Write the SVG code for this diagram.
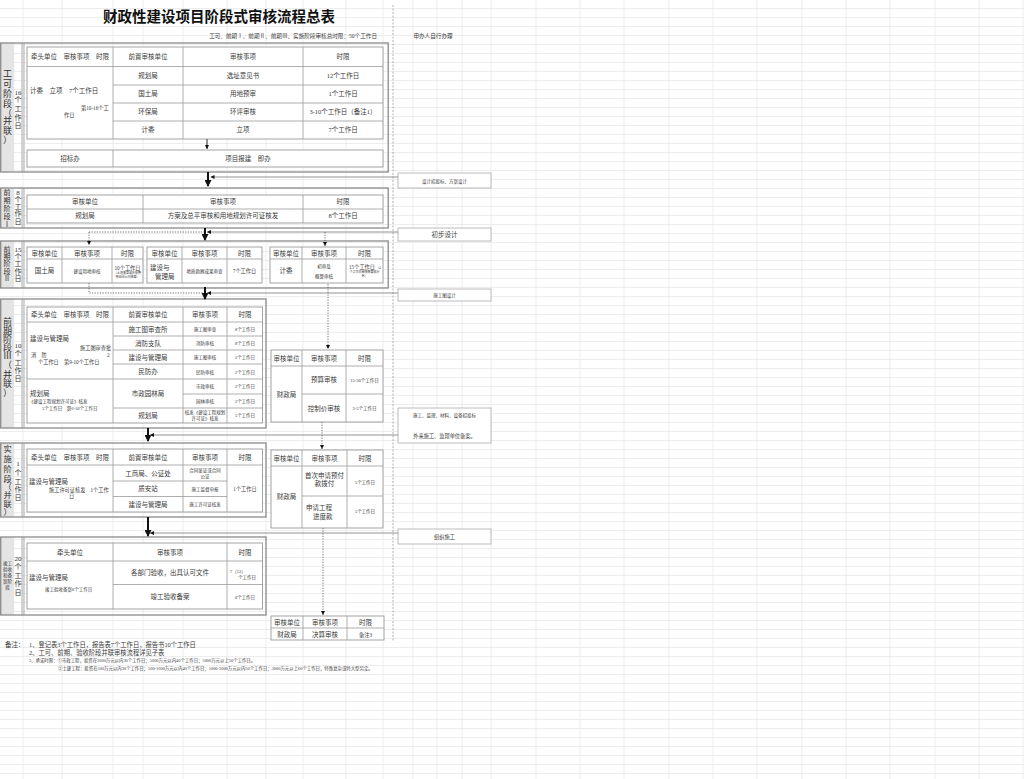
<svg xmlns="http://www.w3.org/2000/svg" width="1024" height="779" viewBox="0 0 1024 779">
<style>
text{font-family:"Liberation Serif","Noto Sans CJK SC",serif;fill:#3a3a3a;font-size:6.5px}
.c{text-anchor:middle}
.s4{font-size:4.5px}
.s5{font-size:5.2px}
.s3{font-size:3px}
.lab{font-size:9px;text-anchor:middle;fill:#333}
.labs{font-size:7px;text-anchor:middle;fill:#333}
.sec{fill:none;stroke:#8a8a8a;stroke-width:1.3}
.gray{fill:#e4e4e4}
.tb{fill:#fff;stroke:#9a9a9a;stroke-width:0.9}
.ln{stroke:#9a9a9a;stroke-width:0.8;fill:none}
.rb{fill:#fff;stroke:#aaa;stroke-width:0.8}
.bold{stroke:#111;stroke-width:2;fill:none;marker-end:url(#big)}
.con{stroke:#777;stroke-width:0.8;fill:none;marker-end:url(#sm)}
.dot{stroke:#555;stroke-width:0.8;fill:none;stroke-dasharray:1.3,1.3}
.dota{stroke:#555;stroke-width:0.8;fill:none;stroke-dasharray:1.3,1.3;marker-end:url(#sm)}
</style>
<defs>
<pattern id="gh" width="1024" height="9" patternUnits="userSpaceOnUse"><path d="M0 8.5H1024" stroke="#e9e9e9" stroke-width="0.8"/></pattern>
<marker id="big" markerWidth="7" markerHeight="7" refX="6" refY="3.5" orient="auto" markerUnits="userSpaceOnUse"><path d="M0,0 L7,3.5 L0,7 z" fill="#111"/></marker>
<marker id="sm" markerWidth="4" markerHeight="4" refX="4" refY="2" orient="auto" markerUnits="userSpaceOnUse"><path d="M0,0 L4,2 L0,4 z" fill="#111"/></marker>
</defs>
<rect width="1024" height="779" fill="#fff"/>
<rect width="1024" height="779" fill="url(#gh)"/>
<path d="M23 0V779M62 0V779M113 0V779M143 0V779M183 0V779M227 0V779M266 0V779M303 0V779M346 0V779M383 0V779M413 0V779M437 0V779M462 0V779M491 0V779M536 0V779M580 0V779M624 0V779M669 0V779M713 0V779M757 0V779M802 0V779M846 0V779M890 0V779M935 0V779M979 0V779M1023 0V779" stroke="#e9e9e9" stroke-width="0.8"/>

<g id="title">
<text x="219" y="22" class="c" style="font-size:14.5px;font-weight:bold;fill:#111">财政性建设项目阶段式审核流程总表</text>
<text x="377" y="38" style="font-size:5.6px;text-anchor:end">工可、前期Ⅰ、前期Ⅱ、前期Ⅲ、实施阶段审核总时限：50个工作日</text>
<text x="433" y="38" class="c" style="font-size:5.6px">申办人自行办理</text>
</g>
<path d="M393 5V642" stroke="#999" stroke-width="0.8" stroke-dasharray="2,1.5"/>

<g id="stage1">
<rect x="0.7" y="43" width="13.5" height="129" class="gray"/>
<rect x="0.7" y="43" width="387.5" height="129" class="sec"/>
<path d="M22 43V172M24 43V172" class="ln"/>
<text class="lab"><tspan x="7.5" y="77">工</tspan><tspan x="7.5" y="87">可</tspan><tspan x="7.5" y="97">阶</tspan><tspan x="7.5" y="107">段</tspan><tspan x="7.5" y="116">（</tspan><tspan x="7.5" y="124">并</tspan><tspan x="7.5" y="134">联</tspan><tspan x="7.5" y="143">）</tspan></text>
<text class="labs"><tspan x="18" y="95">16</tspan><tspan x="18" y="102">个</tspan><tspan x="18" y="111">工</tspan><tspan x="18" y="120">作</tspan><tspan x="18" y="128">日</tspan></text>
<rect x="27" y="47" width="356" height="92" class="tb"/>
<path d="M27 66.5H383M113 85H383M113 103H383M113 121H383M113 47V139M183 47V139M303 47V139" class="ln"/>
<text x="70" y="59" class="c">牵头单位　审核事项　时限</text>
<text x="148" y="59" class="c">前置审核单位</text>
<text x="243" y="59" class="c">审核事项</text>
<text x="343" y="59" class="c">时限</text>
<text x="148" y="78" class="c">规划局</text><text x="243" y="78" class="c">选址意见书</text><text x="343" y="78" class="c">12个工作日</text>
<text x="148" y="96" class="c">国土局</text><text x="243" y="96" class="c">用地预审</text><text x="343" y="96" class="c">1个工作日</text>
<text x="148" y="114" class="c">环保局</text><text x="243" y="114" class="c">环评审核</text><text x="343" y="114" class="c">3-10个工作日（备注1）</text>
<text x="148" y="132" class="c">计委</text><text x="243" y="132" class="c">立项</text><text x="343" y="132" class="c">7个工作日</text>
<text x="30" y="93">计委　立项　7个工作日</text>
<text x="81" y="110" class="s5">第10-16个工</text>
<text x="64" y="117" class="s5">作日</text>
<rect x="27" y="150" width="356" height="17" class="tb"/>
<path d="M113 150V167" class="ln"/>
<text x="70" y="161" class="c">招标办</text>
<text x="248" y="161" class="c">项目报建　即办</text>
</g>

<g id="stage2">
<rect x="0.7" y="188" width="13.5" height="40" class="gray"/>
<rect x="0.7" y="188" width="387.5" height="40" class="sec"/>
<path d="M22 188V228M24 188V228" class="ln"/>
<text class="labs"><tspan x="7" y="195">前</tspan><tspan x="7" y="203">期</tspan><tspan x="7" y="211">阶</tspan><tspan x="7" y="219">段</tspan><tspan x="7" y="227">Ⅰ</tspan></text>
<text class="labs"><tspan x="18" y="195">8</tspan><tspan x="18" y="202">个</tspan><tspan x="18" y="209">工</tspan><tspan x="18" y="216">作</tspan><tspan x="18" y="224">日</tspan></text>
<rect x="27" y="195" width="356" height="28" class="tb"/>
<path d="M27 209H383M143 195V223M303 195V223" class="ln"/>
<text x="85" y="204" class="c">审核单位</text><text x="223" y="204" class="c">审核事项</text><text x="343" y="204" class="c">时限</text>
<text x="85" y="218" class="c">规划局</text><text x="223" y="218" class="c">方案及总平审核和用地规划许可证核发</text><text x="343" y="218" class="c">8个工作日</text>
</g>

<g id="stage3">
<rect x="0.7" y="241" width="13.5" height="47" class="gray"/>
<rect x="0.7" y="241" width="387.5" height="47" class="sec"/>
<path d="M22 241V288M24 241V288" class="ln"/>
<text class="labs"><tspan x="7" y="252">前</tspan><tspan x="7" y="259">期</tspan><tspan x="7" y="266">阶</tspan><tspan x="7" y="274">段</tspan><tspan x="7" y="281">Ⅱ</tspan></text>
<text class="labs"><tspan x="18" y="252">15</tspan><tspan x="18" y="259">个</tspan><tspan x="18" y="266">工</tspan><tspan x="18" y="274">作</tspan><tspan x="18" y="281">日</tspan></text>
<rect x="27" y="247" width="116" height="36" class="tb"/>
<path d="M27 259H143M62 247V283M112 247V283" class="ln"/>
<text x="44.5" y="255.5" class="c">审核单位</text><text x="87" y="255.5" class="c">审核事项</text><text x="127.5" y="255.5" class="c">时限</text>
<text x="44.5" y="273" class="c">国土局</text><text x="87" y="273" class="c s4">建设用地审核</text>
<text x="127.5" y="270" class="c s5">10个工作日</text>
<text x="127.5" y="274" class="c s3">（土地复垦或补偿费</text>
<text x="127.5" y="277.5" class="c s3">用由国土局核算）</text>
<rect x="147" y="247" width="115" height="36" class="tb"/>
<path d="M147 259H262M182 247V283M227 247V283" class="ln"/>
<text x="164.5" y="255.5" class="c">审核单位</text><text x="204.5" y="255.5" class="c">审核事项</text><text x="244.5" y="255.5" class="c">时限</text>
<text x="150" y="270">建设与</text><text x="155" y="279">管理局</text>
<text x="204.5" y="273" class="c s4">地质勘察成果审查</text>
<text x="244.5" y="273" class="c s5">7个工作日</text>
<rect x="270" y="247" width="113" height="36" class="tb"/>
<path d="M270 259H383M302 247V283M346 247V283" class="ln"/>
<text x="286" y="255.5" class="c">审核单位</text><text x="324" y="255.5" class="c">审核事项</text><text x="364.5" y="255.5" class="c">时限</text>
<text x="286" y="273" class="c">计委</text>
<text x="324" y="267.5" class="c s4">初审及</text><text x="324" y="278" class="c s4">概算审核</text>
<text x="362" y="269" class="c s5">15个工作日</text><text x="378.5" y="269" class="c s3">（4</text>
<text x="364.5" y="273" class="c s3">个工作日审核概算部分</text>
<text x="364.5" y="276.5" class="c s3">另）</text>
</g>

<g id="stage4">
<rect x="0.7" y="299" width="13.5" height="129" class="gray"/>
<rect x="0.7" y="299" width="265.3" height="129" class="sec"/>
<path d="M22 299V428M24 299V428" class="ln"/>
<text class="lab"><tspan x="7.5" y="325">前</tspan><tspan x="7.5" y="334">期</tspan><tspan x="7.5" y="342">阶</tspan><tspan x="7.5" y="351">段</tspan><tspan x="7.5" y="359">Ⅲ</tspan><tspan x="7.5" y="368">（</tspan><tspan x="7.5" y="378">并</tspan><tspan x="7.5" y="387">联</tspan><tspan x="7.5" y="396">）</tspan></text>
<text class="labs"><tspan x="18" y="348">10</tspan><tspan x="18" y="356">个</tspan><tspan x="18" y="365">工</tspan><tspan x="18" y="373">作</tspan><tspan x="18" y="381">日</tspan></text>
<rect x="27" y="307" width="235.5" height="116" class="tb"/>
<path d="M27 322H262.5M27 379H262.5M113 336H262.5M113 350H262.5M113 364H262.5M183 394H262.5M113 408H262.5M113 307V423M183 307V423M227 307V423" class="ln"/>
<text x="70" y="316.5" class="c">牵头单位　审核事项　时限</text>
<text x="148" y="316.5" class="c">前置审核单位</text><text x="205" y="316.5" class="c">审核事项</text><text x="245" y="316.5" class="c">时限</text>
<text x="148" y="331.5" class="c">施工图审查所</text><text x="205" y="331" class="c s4">施工图审查</text><text x="245" y="331" class="c s4">8个工作日</text>
<text x="148" y="345.5" class="c">消防支队</text><text x="205" y="345" class="c s4">消防审核</text><text x="245" y="345" class="c s4">8个工作日</text>
<text x="148" y="359.5" class="c">建设与管理局</text><text x="205" y="359" class="c s4">施工图审核</text><text x="245" y="359" class="c s4">2个工作日</text>
<text x="148" y="374" class="c">民防办</text><text x="205" y="373.5" class="c s4">民防审核</text><text x="245" y="373.5" class="c s4">2个工作日</text>
<text x="148" y="396" class="c">市政园林局</text><text x="205" y="388" class="c s4">市政审核</text><text x="245" y="388" class="c s4">2个工作日</text>
<text x="205" y="402.5" class="c s4">园林审核</text><text x="245" y="402.5" class="c s4">2个工作日</text>
<text x="148" y="417.5" class="c">规划局</text>
<text x="205" y="414" class="c s4">核发《建设工程规划</text><text x="205" y="419.5" class="c s4">许可证》核发</text>
<text x="245" y="417" class="c s4">5个工作日</text>
<text x="30" y="341">建设与管理局</text>
<text x="80" y="350" class="s5">施工图审查批</text>
<text x="107" y="356.5" class="s5">2</text>
<text x="31" y="356.5" class="s5">消　防</text>
<text x="38" y="363.5" class="s5">个工作日　第9-10个工作日</text>
<text x="30" y="396">规划局</text>
<text x="29" y="403" class="s4">《建设工程规划许可证》核发</text>
<text x="42" y="409.5" class="s4">5个工作日　第6-10个工作日</text>
</g>

<g id="fin1">
<rect x="271" y="350" width="112" height="72" class="tb"/>
<path d="M271 366H383M302 394H383M302 350V422M346 350V422" class="ln"/>
<text x="286.5" y="360.5" class="c">审核单位</text><text x="324" y="360.5" class="c">审核事项</text><text x="364.5" y="360.5" class="c">时限</text>
<text x="286.5" y="397" class="c">财政局</text>
<text x="324" y="382" class="c">预算审核</text><text x="364.5" y="382" class="c s4">15-30个工作日</text>
<text x="324" y="410.5" class="c">控制价审核</text><text x="364.5" y="410" class="c s4">3-5个工作日</text>
</g>

<g id="stage5">
<rect x="0.7" y="443" width="13.5" height="74" class="gray"/>
<rect x="0.7" y="443" width="265.3" height="74" class="sec"/>
<path d="M22 443V517M24 443V517" class="ln"/>
<text class="lab" style="font-size:8.2px"><tspan x="7.5" y="452">实</tspan><tspan x="7.5" y="462">施</tspan><tspan x="7.5" y="472">阶</tspan><tspan x="7.5" y="481.5">段</tspan><tspan x="7.5" y="490">（</tspan><tspan x="7.5" y="498">并</tspan><tspan x="7.5" y="507">联</tspan><tspan x="7.5" y="515">）</tspan></text>
<text class="labs"><tspan x="18" y="466">1</tspan><tspan x="18" y="475">个</tspan><tspan x="18" y="484">工</tspan><tspan x="18" y="492">作</tspan><tspan x="18" y="500">日</tspan></text>
<rect x="27" y="449" width="235.5" height="63" class="tb"/>
<path d="M27 465H262.5M113 481H227M113 496.5H227M113 449V512M183 449V512M227 449V512" class="ln"/>
<text x="70" y="459.5" class="c">牵头单位　审核事项　时限</text>
<text x="148" y="459.5" class="c">前置审核单位</text><text x="205" y="459.5" class="c">审核事项</text><text x="245" y="459.5" class="c">时限</text>
<text x="148" y="475.5" class="c">工商局、公证处</text>
<text x="205" y="471.5" class="c s4">合同鉴证或合同</text><text x="205" y="478" class="c s4">公证</text>
<text x="148" y="491" class="c">质安站</text><text x="205" y="490.5" class="c s4">施工监督申报</text>
<text x="148" y="506.5" class="c">建设与管理局</text><text x="205" y="506" class="c s4">施工许可证核发</text>
<text x="245" y="490.5" class="c s5">1个工作日</text>
<text x="29" y="484">建设与管理局</text>
<text x="49" y="491.5" class="s5">施工许可证核发　1个工作</text>
<text x="69" y="498" class="s5">日</text>
</g>

<g id="fin2">
<rect x="271" y="450" width="112" height="78" class="tb"/>
<path d="M271 466H383M302 496H383M302 450V528M347 450V528" class="ln"/>
<text x="286.5" y="460.5" class="c">审核单位</text><text x="324.5" y="460.5" class="c">审核事项</text><text x="365" y="460.5" class="c">时限</text>
<text x="286.5" y="499" class="c">财政局</text>
<text x="324.5" y="478" class="c">首次申请预付</text><text x="324.5" y="486" class="c">款拨付</text>
<text x="365" y="483.5" class="c s4">5个工作日</text>
<text x="306" y="510">申请工程</text><text x="313" y="518.5">进度款</text>
<text x="365" y="513" class="c s4">5个工作日</text>
</g>

<g id="stage6">
<rect x="0.7" y="537" width="13.5" height="78" class="gray"/>
<rect x="0.7" y="537" width="265.3" height="78" class="sec"/>
<path d="M22 537V615M24 537V615" class="ln"/>
<text class="c" style="font-size:4.5px;fill:#333"><tspan x="7.5" y="565">竣工</tspan><tspan x="7.5" y="571">验收</tspan><tspan x="7.5" y="577">和备</tspan><tspan x="7.5" y="583">案阶</tspan><tspan x="7.5" y="589">段</tspan></text>
<text class="labs"><tspan x="18" y="561">20</tspan><tspan x="18" y="569">个</tspan><tspan x="18" y="578">工</tspan><tspan x="18" y="586">作</tspan><tspan x="18" y="595">日</tspan></text>
<rect x="27" y="543" width="235.5" height="66" class="tb"/>
<path d="M27 561H262.5M113 584.5H262.5M113 543V609M227 543V609" class="ln"/>
<text x="70" y="554.5" class="c">牵头单位</text><text x="170" y="554.5" class="c">审核事项</text><text x="245" y="554.5" class="c">时限</text>
<text x="170" y="575" class="c">各部门验收，出具认可文件</text>
<text x="230" y="573" class="s4">7（12）</text><text x="247" y="579" class="c s4">个工作日</text>
<text x="170" y="599" class="c">竣工验收备案</text>
<text x="245" y="599" class="c s4">8个工作日</text>
<text x="29" y="580">建设与管理局</text>
<text x="45" y="590.5" class="s4">竣工验收备案8个工作日</text>
</g>

<g id="fin3">
<rect x="271" y="616" width="113" height="24" class="tb"/>
<path d="M271 628H384M303 616V640M347 616V640" class="ln"/>
<text x="287" y="624.5" class="c">审核单位</text><text x="325" y="624.5" class="c">审核事项</text><text x="365.5" y="624.5" class="c">时限</text>
<text x="287" y="636.5" class="c">财政局</text><text x="325" y="636.5" class="c">决算审核</text><text x="365.5" y="636.5" class="c s5">备注3</text>
</g>

<g id="rightboxes">
<rect x="398" y="173" width="93" height="15" class="rb"/><text x="444.5" y="182.5" class="c s4">设计招投标、方案设计</text>
<rect x="398" y="228" width="93" height="13" class="rb"/><text x="444.5" y="236.8" class="c">初步设计</text>
<rect x="398" y="289" width="93" height="12" class="rb"/><text x="444.5" y="297" class="c s4">施工图设计</text>
<rect x="398" y="408" width="93" height="35" class="rb"/><text x="444.5" y="416.5" class="c s4">施工、监理、材料、设备招投标</text><text x="444.5" y="437.5" class="c s5">外来施工、监理单位备案。</text>
<rect x="398" y="529" width="93" height="15" class="rb"/><text x="444.5" y="538.5" class="c s5">组织施工</text>
</g>

<g id="connectors">
<path d="M207 139V149" stroke="#111" stroke-width="0.9" marker-end="url(#sm)"/>
<path d="M208 172V186" class="bold"/>
<path d="M205 228V240" class="bold"/>
<path d="M205 287V299" class="bold"/>
<path d="M148 428V441" class="bold"/>
<path d="M148 517V536" class="bold"/>
<path d="M398 177H210.5" class="con"/>
<path d="M398 232H207" class="con"/>
<path d="M398 293H207" class="con"/>
<path d="M398 435H150" class="con"/>
<path d="M398 533H150" class="con"/>
<path d="M89 232H204" class="dot"/>
<path d="M89 232V245" class="dota"/>
<path d="M325 232V246" class="dota"/>
<path d="M89 283V293H204" class="dot"/>
<path d="M328 284V349" class="dota"/>
<path d="M322 422V449" class="dota"/>
<path d="M323 528V615" class="dota"/>
</g>

<g id="notes">
<text x="5" y="647" style="font-size:6.5px">备注：</text>
<text x="29" y="647" style="font-size:6.3px">1、登记表3个工作日，报告表7个工作日，报告书10个工作日</text>
<text x="29" y="655" style="font-size:6.3px">2、工可、前期、验收阶段并联审核流程详见子表</text>
<text x="29" y="661.5" style="font-size:4.4px">3、承诺时限：①市政工程，投资在3000万元以内30个工作日；5000万元以内40个工作日；5000万元以上50个工作日。</text>
<text x="58" y="670" style="font-size:4.4px">②土建工程：投资在500万元以内30个工作日；500-1000万元以内40个工作日；1000-3000万元以内50个工作日；3000万元以上60个工作日，特殊复杂或特大型另定。</text>
</g>
</svg>
